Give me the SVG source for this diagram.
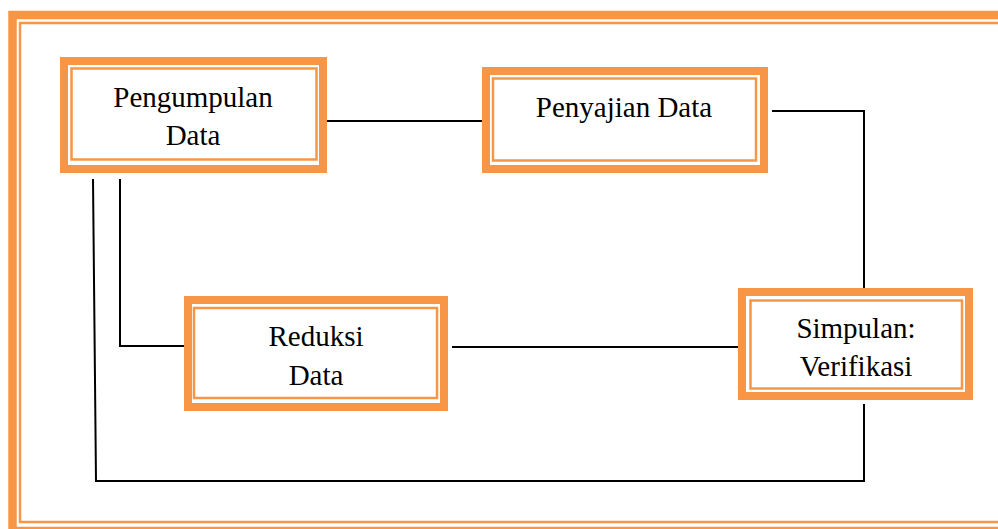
<svg xmlns="http://www.w3.org/2000/svg" width="998" height="529" viewBox="0 0 998 529">
<style>
.thick{fill:none;stroke:#F79646;stroke-width:8}
.thin{fill:none;stroke:#F79646;stroke-width:2.5}
.lbl{font-family:"Liberation Serif","Times New Roman",serif;font-size:29px;fill:#000;text-anchor:middle}
.conn{fill:none;stroke:#000;stroke-width:2}
</style>
<rect width="998" height="529" fill="#fff"/>
<g id="frame">
<rect x="12.5" y="15" width="1010" height="516" fill="none" stroke="#F79646" stroke-width="8.5"/>
<rect x="20" y="23" width="1000" height="499" class="thin"/>
</g>
<g id="connectors">
<polyline class="conn" points="327,121 482,121"/>
<polyline class="conn" points="772,111 864,111 864,288"/>
<polyline class="conn" points="93,179 96,481 864,481 864,404"/>
<polyline class="conn" points="120,179 120,346 184,346"/>
<polyline class="conn" points="452,347 738,347"/>
</g>
<g id="pengumpulan">
<rect x="64" y="61" width="259" height="108" class="thick" fill="#fff"/>
<rect x="71.5" y="68.5" width="245" height="91" class="thin"/>
<text class="lbl" x="193" y="107">Pengumpulan</text>
<text class="lbl" x="193" y="145">Data</text>
</g>
<g id="penyajian">
<rect x="486" y="71" width="278" height="98" class="thick"/>
<rect x="493" y="78.5" width="263" height="82" class="thin"/>
<text class="lbl" x="624" y="117">Penyajian Data</text>
</g>
<g id="reduksi">
<rect x="188" y="300" width="256" height="107" class="thick"/>
<rect x="194" y="308" width="243" height="90" class="thin"/>
<text class="lbl" x="316" y="346">Reduksi</text>
<text class="lbl" x="316" y="385">Data</text>
</g>
<g id="simpulan">
<rect x="742" y="292" width="227" height="104" class="thick"/>
<rect x="750.5" y="300.5" width="211.5" height="88" class="thin"/>
<text class="lbl" x="856" y="338">Simpulan:</text>
<text class="lbl" x="856" y="376">Verifikasi</text>
</g>
</svg>
